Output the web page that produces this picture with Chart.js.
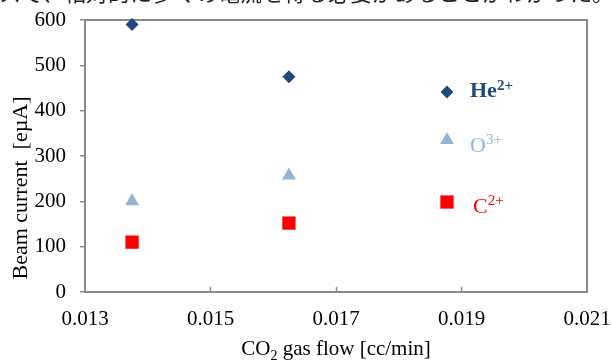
<!DOCTYPE html>
<html>
<head>
<meta charset="utf-8">
<script src="https://cdn.jsdelivr.net/npm/chart.js@4/dist/chart.umd.min.js"></script>
<style>
  html, body { margin: 0; padding: 0; background: #fff; }
  canvas { display: block; }
</style>
</head>
<body>
<canvas id="c" width="612" height="360"></canvas>
<script>
// CO2 gas flow [cc/min] at each measurement
const flowValues = [0.01375, 0.01625];
// Beam current [eµA] for each ion species
const heCurrent = [590, 475];
const oCurrent = [200, 257];
const cCurrent = [110, 152];
// Axis ticks
const xTicks = [0.013, 0.015, 0.017, 0.019, 0.021];
const yTicks = [0, 100, 200, 300, 400, 500, 600];
// Ion labels: element and charge state
const ionNames = ['He', 'O', 'C'];
const ionCharges = ['2+', '3+', '2+'];

const SERIF = '"Liberation Serif", "Times New Roman", serif';
const colors = ['#1F497D', '#95B3D7', '#FF0000'];
const styles = [
  { pointStyle: 'rectRot', radius: 6.5 },
  { pointStyle: 'triangle', radius: 8 },
  { pointStyle: 'rect', radius: 9.4 }
];
const seriesValues = [heCurrent, oCurrent, cCurrent];

const datasets = seriesValues.map((vals, i) => ({
  label: ionNames[i] + ionCharges[i],
  data: flowValues.map((f, k) => ({ x: f, y: vals[k] })),
  backgroundColor: colors[i],
  borderColor: colors[i],
  borderWidth: 0,
  pointStyle: styles[i].pointStyle,
  pointRadius: styles[i].radius,
  pointHoverRadius: styles[i].radius,
  showLine: false,
  clip: false
}));

// Draws a run of text pieces with different sizes / baseline offsets
function drawRuns(ctx, runs, x, y, align) {
  let total = 0;
  runs.forEach(r => {
    ctx.font = (r.bold ? 'bold ' : '') + r.size + 'px ' + SERIF;
    r.w = ctx.measureText(r.text).width;
    total += r.w;
  });
  let cx = align === 'center' ? x - total / 2 : x;
  ctx.textAlign = 'left';
  ctx.textBaseline = 'alphabetic';
  runs.forEach(r => {
    ctx.font = (r.bold ? 'bold ' : '') + r.size + 'px ' + SERIF;
    ctx.fillText(r.text, cx, y + (r.dy || 0));
    cx += r.w;
  });
}

function drawMarker(ctx, style, r, x, y) {
  ctx.beginPath();
  if (style === 'rectRot') {
    ctx.moveTo(x, y - r); ctx.lineTo(x + r, y); ctx.lineTo(x, y + r); ctx.lineTo(x - r, y);
  } else if (style === 'triangle') {
    const s = Math.sin(Math.PI / 3) * r;
    ctx.moveTo(x, y - r); ctx.lineTo(x + s, y + r / 2); ctx.lineTo(x - s, y + r / 2);
  } else {
    const h = Math.SQRT1_2 * r;
    ctx.rect(x - h, y - h, 2 * h, 2 * h);
  }
  ctx.closePath();
  ctx.fill();
}

const decorations = {
  id: 'decorations',
  beforeDatasetsDraw(chart) {
    const { ctx, chartArea: a, scales: { x } } = chart;
    ctx.save();
    ctx.strokeStyle = '#8a8a8a';
    ctx.lineWidth = 2;
    ctx.strokeRect(a.left, a.top, a.right - a.left, a.bottom - a.top);
    // inner tick marks on the flow axis
    ctx.lineWidth = 1.5;
    xTicks.slice(1, -1).forEach(v => {
      const px = Math.round(x.getPixelForValue(v)) + 0.5;
      ctx.beginPath();
      ctx.moveTo(px, a.bottom);
      ctx.lineTo(px, a.bottom - 5);
      ctx.stroke();
    });
    ctx.restore();
  },
  afterDraw(chart) {
    const { ctx, chartArea: a } = chart;
    ctx.save();

    // running text of the page above the figure (only its lower edge shows)
    ctx.fillStyle = '#222';
    ctx.font = '22px "Noto Sans CJK JP", sans-serif';
    ctx.textAlign = 'right';
    ctx.textBaseline = 'bottom';
    ctx.fillText('を含むガスで、相対的に多くの電流を得る必要があることがわかった。', 614, 4);

    // axis titles
    ctx.fillStyle = '#000';
    drawRuns(ctx, [
      { text: 'CO', size: 21 },
      { text: '2', size: 14, dy: 5 },
      { text: ' gas flow [cc/min]', size: 21 }
    ], (a.left + a.right) / 2, 355, 'center');

    ctx.save();
    ctx.translate(27, 188);
    ctx.rotate(-Math.PI / 2);
    ctx.font = '22px ' + SERIF;
    ctx.textAlign = 'center';
    ctx.textBaseline = 'alphabetic';
    ctx.fillText('Beam current  [eµA]', 0, 0);
    ctx.restore();

    // ion legend
    const mx = 447;
    const markerY = [92, 140, 202];
    const textX = [470, 470, 473];
    const textY = [97, 152, 213];
    const supY = [90, 144, 205];
    ionNames.forEach((name, i) => {
      ctx.fillStyle = colors[i];
      drawMarker(ctx, styles[i].pointStyle, styles[i].radius, mx, markerY[i]);
      const bold = i === 0;
      drawRuns(ctx, [
        { text: name, size: 22, bold },
        { text: ionCharges[i], size: 15, bold, dy: supY[i] - textY[i] }
      ], textX[i], textY[i], 'left');
    });
    ctx.restore();
  }
};

new Chart(document.getElementById('c'), {
  type: 'scatter',
  data: { datasets },
  options: {
    responsive: false,
    animation: false,
    events: [],
    layout: { padding: { top: 20, right: 25, left: 0, bottom: 0 } },
    plugins: { legend: { display: false }, tooltip: { enabled: false } },
    scales: {
      x: {
        type: 'linear',
        min: xTicks[0],
        max: xTicks[xTicks.length - 1],
        afterBuildTicks: s => { s.ticks = xTicks.map(v => ({ value: v })); },
        afterFit: s => { s.height = 68; s.paddingLeft = 0; s.paddingRight = 0; },
        grid: { display: false },
        border: { display: false },
        ticks: {
          autoSkip: false,
          maxRotation: 0,
          padding: 7,
          color: '#000',
          font: { family: SERIF, size: 21 },
          callback: v => Number(v).toFixed(3)
        }
      },
      y: {
        type: 'linear',
        min: yTicks[0],
        max: yTicks[yTicks.length - 1],
        afterBuildTicks: s => { s.ticks = yTicks.map(v => ({ value: v })); },
        afterFit: s => { s.width = 85; s.paddingTop = 0; s.paddingBottom = 0; },
        grid: {
          display: true,
          drawOnChartArea: false,
          drawTicks: true,
          tickLength: 5,
          color: '#8a8a8a',
          lineWidth: 1.5
        },
        border: { display: false },
        ticks: {
          padding: 14,
          color: '#000',
          font: { family: SERIF, size: 21 },
          callback: v => String(v)
        }
      }
    }
  },
  plugins: [decorations]
});
</script>
</body>
</html>
